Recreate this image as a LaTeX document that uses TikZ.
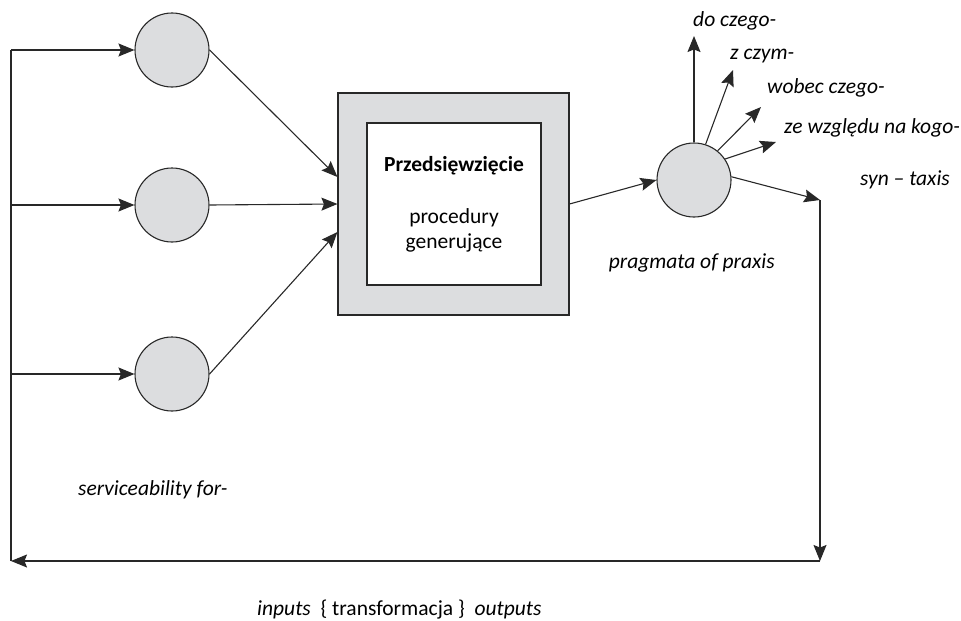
\documentclass[tikz,border=0pt]{standalone}
\usepackage{fontspec}
\setmainfont{Carlito}
\usetikzlibrary{arrows.meta,positioning}
\definecolor{szary}{RGB}{220,221,223}
\definecolor{linia}{RGB}{40,40,40}
\newcommand{\rozmiar}{\fontsize{21.5}{25}\selectfont}
\tikzset{
  linia/.style={draw=linia, line width=1.1pt},
  strzalka/.style={linia, -{Stealth[length=16pt,width=13pt,inset=2.5pt]}},
  kolo/.style={circle, linia, fill=szary, minimum size=74pt, inner sep=0pt},
  etykieta/.style={font=\rozmiar\itshape, anchor=base west, inner sep=0pt}
}
\begin{document}
\begin{tikzpicture}[x=1pt, y=-1pt, font=\rozmiar]
    \useasboundingbox (0,0) rectangle (961,621);

    % Przedsięwzięcie
    \node[linia, fill=szary, minimum width=231pt, minimum height=222pt] (proj) at (453.5,204) {};
    \node[linia, fill=white, minimum width=174pt, minimum height=162pt, align=center] (inner) at (454,204)
      {\textbf{Przedsięwzięcie}\\[27pt]procedury\\generujące};

    % Wejścia
    \foreach \n/\y/\dy in {1/50/27, 2/205/0, 3/374/-28} {
      \node[kolo] (c\n) at (172,\y) {};
      \coordinate (s\n) at (11,\y);
      \draw[strzalka] (s\n) -- (c\n);
      \draw[strzalka] (c\n.east) -- ([yshift=\dy pt]proj.west);
    }

    % Wyjście
    \node[kolo] (c4) at (694,180) {};
    \draw[strzalka] (proj.east) -- (c4.west);
    \foreach \n/\a/\x/\y in {1/90/694/36, 2/72/733/70, 3/51/761/107, 4/34/776/142} {
      \coordinate (k\n) at (\x,\y);
      \draw[strzalka] (c4.\a) -- (k\n);
    }

    % Pętla zwrotna
    \coordinate (out) at (820,200);
    \coordinate (back) at (820,561);
    \coordinate (home) at (11,561);
    \draw[strzalka] (c4.5) -- (out);
    \draw[strzalka] (out) -- (back);
    \draw[strzalka] (back) -- (home);
    \draw[linia] (home) -- (s1);

    % Etykiety
    \node[etykieta] (l1) at (693,26) {do czego-};
    \node[etykieta] (l2) at (730,59) {z czym-};
    \node[etykieta] (l3) at (767,93) {wobec czego-};
    \node[etykieta] (l4) at (784,133) {ze względu na kogo-};
    \node[etykieta] (l5) at (860,185) {syn – taxis};
    \node[etykieta, anchor=base east] (prax) at (775,268) {pragmata of praxis};
    \node[etykieta] (serv) at (78,495) {serviceability for-};
    \node[anchor=base west, inner sep=0pt] (io) at (257,615)
      {\textit{inputs}\ \ \{ transformacja \}\ \ \textit{outputs}};
\end{tikzpicture}
\end{document}
